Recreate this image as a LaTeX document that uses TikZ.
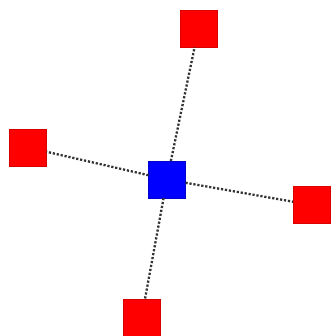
\documentclass[tikz,border=0pt]{standalone}
\begin{document}
\begin{tikzpicture}[x=1pt,y=-1pt,
  leaf/.style={draw=red!85!black, line width=0.4pt, fill=red, minimum size=37pt, inner sep=0pt, outer sep=0pt},
  hub/.style={draw=blue!80!black, line width=0.4pt, fill=blue, minimum size=37pt, inner sep=0pt, outer sep=0pt},
  link/.style={draw=black!80, line width=2.3pt, dash pattern=on 2.2pt off 1.8pt}]
\useasboundingbox (0,0) rectangle (331,336);
\node[hub] (c) at (167,179.5) {};
\node[leaf] (t) at (198.5,28.5) {};
\node[leaf] (l) at (28,147.5) {};
\node[leaf] (r) at (311.5,205) {};
\node[leaf] (b) at (141.5,318) {};
\draw[link] (c) -- (t);
\draw[link] (c) -- (l);
\draw[link] (c) -- (r);
\draw[link] (c) -- (b);
\end{tikzpicture}
\end{document}
